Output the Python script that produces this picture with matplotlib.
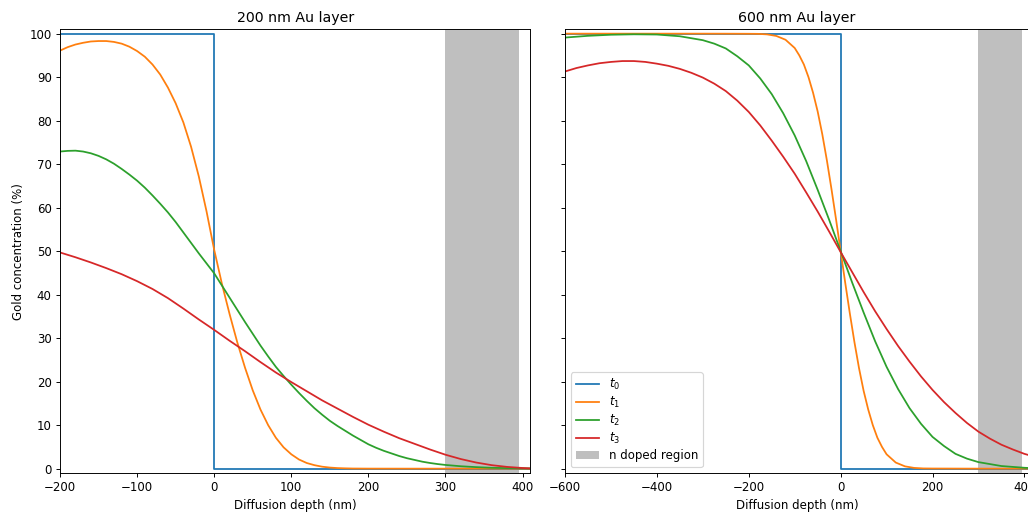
import matplotlib
matplotlib.use("Agg")
import matplotlib.pyplot as plt

# --- 200 nm Au layer ---
thin_x_t0 = [-200, 0, 0, 410]
thin_t0 = [100, 100, 0, 0]

thin_x_t1 = [-200, -190, -180, -170, -160, -150, -140, -130, -120, -110, -100,
             -90, -80, -70, -60, -50, -40, -30, -20, -10, 0,
             10, 20, 30, 40, 50, 60, 70, 80, 90, 100,
             110, 120, 130, 140, 150, 160, 170, 180, 190, 200, 250, 300, 350, 410]
thin_t1 = [96.1, 96.9, 97.5, 97.9, 98.2, 98.3, 98.3, 98.1, 97.7, 97.0, 96.0,
           94.7, 92.9, 90.6, 87.6, 84.0, 79.6, 74.0, 67.2, 59.2, 50.3,
           42.5, 35.5, 29.0, 23.2, 18.0, 13.6, 10.0, 7.1, 4.9, 3.3,
           2.1, 1.3, 0.8, 0.45, 0.25, 0.13, 0.07, 0.03, 0.02, 0.01, 0, 0, 0, 0]

thin_x_t2 = [-200, -190, -180, -170, -160, -150, -140, -130, -120, -110, -100,
             -90, -80, -70, -60, -50, -40, -30, -20, -10, 0,
             10, 20, 30, 40, 50, 60, 70, 80, 90, 100,
             110, 120, 130, 140, 150, 160, 170, 180, 190, 200,
             210, 220, 230, 240, 250, 260, 270, 280, 290, 300,
             320, 340, 360, 380, 400, 410]
thin_t2 = [72.9, 73.05, 73.1, 72.9, 72.5, 71.9, 71.1, 70.1, 68.9, 67.6, 66.2,
           64.6, 62.8, 60.9, 58.9, 56.7, 54.3, 51.9, 49.5, 47.2, 44.9,
           42.1, 39.3, 36.5, 33.7, 31.0, 28.3, 25.8, 23.4, 21.3, 19.3,
           17.4, 15.6, 13.9, 12.4, 11.0, 9.8, 8.7, 7.6, 6.6, 5.6,
           4.8, 4.1, 3.5, 2.9, 2.4, 2.0, 1.6, 1.3, 1.05, 0.85,
           0.55, 0.35, 0.2, 0.12, 0.07, 0.05]

thin_x_t3 = [-200, -180, -160, -140, -120, -100, -80, -60, -40, -20, 0,
             20, 40, 60, 80, 100, 120, 140, 160, 180, 200,
             220, 240, 260, 280, 300, 320, 340, 360, 380, 400, 410]
thin_t3 = [49.7, 48.6, 47.4, 46.1, 44.7, 43.1, 41.3, 39.2, 36.8, 34.3, 31.9,
           29.4, 27.0, 24.5, 22.1, 19.9, 17.8, 15.7, 13.8, 11.9, 10.1,
           8.5, 7.0, 5.7, 4.4, 3.2, 2.2, 1.4, 0.8, 0.4, 0.15, 0.05]

# --- 600 nm Au layer ---
thick_x_t0 = [-600, 0, 0, 410]
thick_t0 = [100, 100, 0, 0]

thick_x_t1 = [-600, -400, -300, -250, -200, -180, -160, -140, -120, -100,
              -90, -80, -70, -60, -50, -40, -30, -20, -10, 0,
              10, 20, 30, 40, 50, 60, 70, 80, 90, 100,
              120, 140, 160, 180, 200, 300, 410]
thick_t1 = [100, 100, 100, 99.99, 99.97, 99.95, 99.83, 99.47, 98.6, 96.7,
            95.0, 92.9, 90.0, 86.4, 82.1, 76.9, 70.9, 64.3, 57.3, 50.0,
            42.7, 35.7, 29.1, 23.1, 17.9, 13.6, 10.0, 7.1, 5.0, 3.3,
            1.4, 0.53, 0.17, 0.05, 0.03, 0, 0]

thick_x_t2 = [-600, -550, -500, -450, -400, -350, -300, -275, -250, -225, -200,
              -175, -150, -125, -100, -75, -50, -25, 0,
              25, 50, 75, 100, 125, 150, 175, 200, 225, 250,
              275, 300, 350, 400, 410]
thick_t2 = [99.1, 99.5, 99.75, 99.85, 99.8, 99.4, 98.5, 97.7, 96.6, 94.8, 92.7,
            89.7, 86.1, 81.7, 76.6, 70.7, 64.1, 57.2, 50.0,
            42.8, 35.9, 29.3, 23.4, 18.3, 13.9, 10.3, 7.3, 5.2, 3.4,
            2.3, 1.5, 0.6, 0.2, 0.15]

thick_x_t3 = [-600, -575, -550, -525, -500, -475, -450, -425, -400, -375, -350,
              -325, -300, -275, -250, -225, -200, -175, -150, -125, -100,
              -75, -50, -25, 0, 25, 50, 75, 100, 125, 150,
              175, 200, 225, 250, 275, 300, 325, 350, 375, 400, 410]
thick_t3 = [91.3, 92.1, 92.7, 93.2, 93.5, 93.7, 93.7, 93.5, 93.1, 92.6, 91.9,
            91.0, 89.9, 88.5, 86.8, 84.6, 82.0, 78.9, 75.4, 71.7, 67.8,
            63.5, 59.1, 54.5, 49.8, 45.2, 40.6, 36.2, 32.1, 28.2, 24.6,
            21.2, 18.1, 15.3, 12.8, 10.5, 8.5, 6.9, 5.5, 4.4, 3.4, 3.1]

n_region = (300, 395)

# drawn at 85 dpi so that text and lines come out a bit finer
fig = plt.figure(figsize=(1028 / 85, 513 / 85), dpi=85)
ax1 = fig.add_axes([60 / 1028, 40 / 513, 470.3 / 1028, 443.7 / 513])
ax2 = fig.add_axes([565 / 1028, 40 / 513, 464 / 1028, 443.7 / 513], sharey=ax1)

panels = [
    (ax1, "200 nm Au layer", (-200, 410),
     [(thin_x_t0, thin_t0), (thin_x_t1, thin_t1), (thin_x_t2, thin_t2), (thin_x_t3, thin_t3)]),
    (ax2, "600 nm Au layer", (-600, 410),
     [(thick_x_t0, thick_t0), (thick_x_t1, thick_t1), (thick_x_t2, thick_t2), (thick_x_t3, thick_t3)]),
]

for ax, title, xlim, curves in panels:
    for i, (x, y) in enumerate(curves):
        ax.plot(x, y, label=f"$t_{i}$")
    ax.axvspan(*n_region, color="gray", alpha=0.5, lw=0, label="n doped region")
    ax.set_xlim(*xlim)
    ax.set_title(title)
    ax.set_xlabel("Diffusion depth (nm)")

ax1.set_ylim(-1, 101)
ax1.set_yticks(range(0, 101, 10))
ax1.set_ylabel("Gold concentration (%)")
ax2.tick_params(labelleft=False)
ax2.legend(loc="lower left", labelspacing=0.25)

fig.savefig("out.png", dpi=85)
